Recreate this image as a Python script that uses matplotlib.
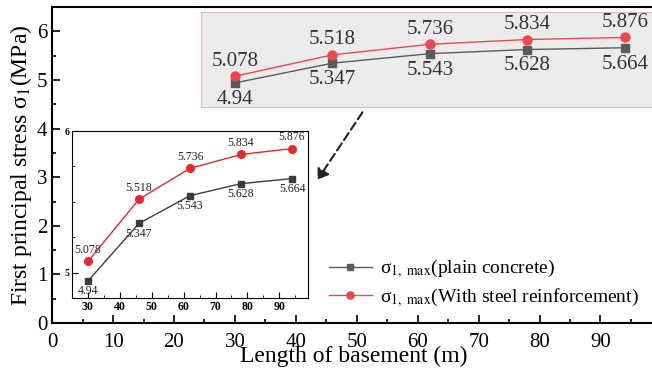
import matplotlib
matplotlib.use("Agg")
from matplotlib import pyplot as plt
from matplotlib.patches import Rectangle, FancyArrowPatch

plt.rcParams["font.family"] = ["Liberation Serif", "DejaVu Serif"]
plt.rcParams["mathtext.fontset"] = "stix"

# data
length = [30, 46, 62, 78, 94]
plain = [4.94, 5.347, 5.543, 5.628, 5.664]
steel = [5.078, 5.518, 5.736, 5.834, 5.876]
plain_lbl = ["4.94", "5.347", "5.543", "5.628", "5.664"]
steel_lbl = ["5.078", "5.518", "5.736", "5.834", "5.876"]

gray_c = "#5a5a5a"
red_c = "#e84a4f"

fig = plt.figure(figsize=(6.52, 3.76), dpi=100)
ax = fig.add_axes([0.08, 0.141, 0.925, 0.84])

# highlighted region behind the curves
ax.add_patch(Rectangle((24.4, 4.45), 74.6, 1.96, facecolor="#ebebeb",
                       edgecolor="#f3b5b5", lw=0.8, zorder=0))

ax.plot(length, plain, color=gray_c, marker="s", ms=6, lw=1, zorder=3)
ax.plot(length, steel, color=red_c, marker="o", ms=6.5, lw=1, zorder=3)
for x, y, t in zip(length, steel, steel_lbl):
    ax.annotate(t, (x, y), xytext=(0, 4), textcoords="offset points",
                ha="center", va="bottom", fontsize=15, color="#333333")
for x, y, t in zip(length, plain, plain_lbl):
    ax.annotate(t, (x, y), xytext=(0, -5), textcoords="offset points",
                ha="center", va="top", fontsize=15, color="#333333")

ax.set_xlim(0, 99)
ax.set_ylim(0, 6.5)
ax.set_xticks(range(0, 100, 10))
ax.set_xticks(range(5, 100, 10), minor=True)
ax.set_yticks(range(0, 7))
ax.set_yticks([0.5 + i for i in range(7)], minor=True)
ax.tick_params(which="both", direction="in", labelsize=15, width=1.2)
ax.tick_params(which="major", length=6)
ax.tick_params(which="minor", length=3)
ax.tick_params(axis="x", pad=7)
for s in ax.spines.values():
    s.set_linewidth(1.5)
ax.set_xlabel("Length of basement (m)", fontsize=17, labelpad=-4)
ax.set_ylabel(r"First principal stress σ$_1$(MPa)", fontsize=17, labelpad=2)

# legend
leg = ax.legend(
    [ax.lines[0], ax.lines[1]],
    [r"σ$_{1,\ \mathrm{max}}$(plain concrete)",
     r"σ$_{1,\ \mathrm{max}}$(With steel reinforcement)"],
    loc="lower left", bbox_to_anchor=(0.43, -0.01), frameon=False,
    fontsize=14, handlelength=2.2, labelspacing=0.3, handletextpad=0.4,
    markerscale=0.8)

# inset
ins = fig.add_axes([72 / 652, 1 - 298 / 376, 236 / 652, 167 / 376])
ins.plot(length, plain, color="#3c3c3c", marker="s", ms=5, lw=1)
ins.plot(length, steel, color="#e8282b", marker="o", ms=5.5, lw=1)
for x, y, t in zip(length, steel, steel_lbl):
    ins.annotate(t, (x, y), xytext=(0, 4), textcoords="offset points",
                 ha="center", va="bottom", fontsize=8.5, color="#222222")
for x, y, t in zip(length, plain, plain_lbl):
    ins.annotate(t, (x, y), xytext=(0, -3), textcoords="offset points",
                 ha="center", va="top", fontsize=8.5, color="#222222")
ins.set_xlim(25, 99)
ins.set_ylim(4.82, 6.0)
ins.set_xticks(range(30, 100, 10))
ins.set_xticks(range(35, 100, 10), minor=True)
ins.set_yticks([5, 6])
ins.set_yticks([5.25, 5.5, 5.75], minor=True)
ins.tick_params(which="both", direction="in", labelsize=7, pad=2)
ins.tick_params(axis="x", labelsize=8.5)
ins.tick_params(which="major", length=4)
ins.tick_params(which="minor", length=2)
for lab in ins.get_xticklabels() + ins.get_yticklabels():
    lab.set_fontweight("bold")
for s in ins.spines.values():
    s.set_linewidth(0.8)

# dashed arrow pointing to inset
fig.patches.append(FancyArrowPatch(
    (364 / 652, 1 - 110 / 376), (316 / 652, 1 - 182 / 376),
    transform=fig.transFigure, arrowstyle="-|>,head_length=6,head_width=4",
    linestyle=(0, (4, 2)), lw=1.5, color="#222222"))

fig.savefig("out.png", dpi=100)
